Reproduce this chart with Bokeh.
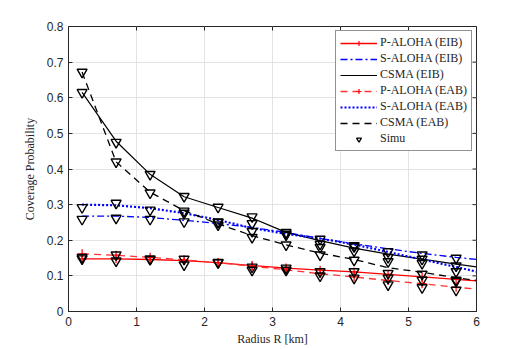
from bokeh.plotting import figure
from bokeh.models import Range1d, Legend, LegendItem, FixedTicker
from bokeh.embed import file_html
from bokeh.resources import INLINE

# ---- data ----
x_line = [0.2, 0.7, 1.2, 1.7, 2.2, 2.7, 3.2, 3.7, 4.2, 4.7, 5.2, 5.7, 6.0]
p_aloha_eib = [0.148, 0.148, 0.146, 0.143, 0.137, 0.129, 0.122, 0.116, 0.111, 0.104, 0.097, 0.090, 0.086]
s_aloha_eib = [0.268, 0.268, 0.264, 0.256, 0.247, 0.236, 0.222, 0.205, 0.190, 0.176, 0.163, 0.152, 0.146]
csma_eib = [0.615, 0.478, 0.385, 0.322, 0.292, 0.262, 0.222, 0.199, 0.178, 0.161, 0.147, 0.133, 0.125]
p_aloha_eab = [0.162, 0.158, 0.152, 0.145, 0.137, 0.127, 0.117, 0.106, 0.097, 0.087, 0.078, 0.068, 0.063]
s_aloha_eab = [0.300, 0.298, 0.290, 0.276, 0.257, 0.234, 0.218, 0.205, 0.188, 0.167, 0.146, 0.125, 0.112]
csma_eab = [0.672, 0.420, 0.335, 0.283, 0.246, 0.213, 0.187, 0.164, 0.146, 0.123, 0.110, 0.095, 0.087]

x_sim = [0.2, 0.7, 1.2, 1.7, 2.2, 2.7, 3.2, 3.7, 4.2, 4.7, 5.2, 5.7]
sim_p_eib = [0.148, 0.142, 0.146, 0.131, 0.137, 0.116, 0.122, 0.112, 0.112, 0.094, 0.088, 0.085]
sim_p_eab = [0.152, 0.159, 0.148, 0.147, 0.138, 0.125, 0.116, 0.100, 0.094, 0.075, 0.067, 0.060]
sim_s_eib = [0.259, 0.262, 0.259, 0.252, 0.252, 0.247, 0.222, 0.203, 0.185, 0.168, 0.159, 0.150]
sim_csma_eib = [0.615, 0.475, 0.385, 0.323, 0.293, 0.266, 0.217, 0.189, 0.182, 0.152, 0.147, 0.128]
sim_s_eab = [0.292, 0.304, 0.285, 0.276, 0.250, 0.225, 0.215, 0.180, 0.170, 0.140, 0.135, 0.112]
sim_csma_eab = [0.672, 0.420, 0.333, 0.282, 0.243, 0.208, 0.187, 0.159, 0.144, 0.107, 0.105, 0.088]

x_ticks = [0, 1, 2, 3, 4, 5, 6]
y_ticks = [0, 0.1, 0.2, 0.3, 0.4, 0.5, 0.6, 0.7, 0.8]

AX = "#262626"
TICKFONT = "Liberation Sans"
SERIF = "Liberation Serif"

X0, X1, Y0, Y1 = 0, 6, 0, 0.8

p = figure(width=526, height=349, output_backend="svg", toolbar_location=None,
           x_range=Range1d(X0, X1), y_range=Range1d(Y0, Y1),
           min_border_left=68, min_border_right=50, min_border_top=26, min_border_bottom=38)
p.outline_line_color = AX
p.outline_line_width = 1
p.background_fill_color = "white"

xa = p.xaxis[0]
ya = p.yaxis[0]
xa.ticker = FixedTicker(ticks=x_ticks)
ya.ticker = FixedTicker(ticks=y_ticks)
for ax in (xa, ya):
    ax.axis_line_color = AX
    ax.major_tick_in = 4
    ax.major_tick_out = 0
    ax.minor_tick_in = 0
    ax.minor_tick_out = 0
    ax.major_tick_line_color = AX
    ax.major_label_text_font = TICKFONT
    ax.major_label_text_color = AX
    ax.major_label_text_font_size = "12px"
    ax.axis_label_text_font = SERIF
    ax.axis_label_text_font_style = "normal"
    ax.axis_label_text_font_size = "12px"
    ax.axis_label_text_color = AX
xa.major_label_standoff = 5
ya.major_label_standoff = 5
xa.axis_label = "Radius R [km]"
ya.axis_label = "Coverage Probability"
xa.axis_label_standoff = 3
ya.axis_label_standoff = 7

# inward ticks on the top and right edges (box style)
dx = (X1 - X0) * 4 / 408
dy = (Y1 - Y0) * 4 / 285
p.segment(x0=[X1] * len(y_ticks), y0=y_ticks, x1=[X1 - dx] * len(y_ticks), y1=y_ticks,
          line_color=AX, line_width=1)
p.segment(x0=x_ticks, y0=[Y1] * len(x_ticks), x1=x_ticks, y1=[Y1 - dy] * len(x_ticks),
          line_color=AX, line_width=1)

p.xgrid.ticker = FixedTicker(ticks=x_ticks)
p.ygrid.ticker = FixedTicker(ticks=y_ticks)
p.grid.grid_line_color = "#e3e3e3"
p.grid.grid_line_width = 1

r_p_eib = p.line(x_line, p_aloha_eib, line_color="#ff0000", line_width=1.3)
r_p_eib_m = p.scatter(x_line[:-1], p_aloha_eib[:-1], marker="cross", size=9,
                      line_color="#ff0000", line_width=1.2)
r_s_eib = p.line(x_line, s_aloha_eib, line_color="#0000ff", line_width=1.3, line_dash="7 3 2 3")
r_c_eib = p.line(x_line, csma_eib, line_color="black", line_width=1.2)
r_p_eab = p.line(x_line, p_aloha_eab, line_color="#ff3333", line_width=1.3, line_dash="7 5")
r_p_eab_m = p.scatter(x_line[:-1], p_aloha_eab[:-1], marker="cross", size=9,
                      line_color="#ff0000", line_width=1.2)
r_s_eab = p.line(x_line, s_aloha_eab, line_color="#0000ff", line_width=2.2, line_dash="2 2")
r_c_eab = p.line(x_line, csma_eab, line_color="black", line_width=1.3, line_dash="7 5")

r_sim = None
for ys in (sim_p_eib, sim_p_eab, sim_s_eib, sim_csma_eib, sim_s_eab, sim_csma_eab):
    r = p.scatter(x_sim, ys, marker="inverted_triangle", size=10, line_color="black",
                  fill_color=None, line_width=1.4)
    if r_sim is None:
        r_sim = r

items = [
    LegendItem(label="P-ALOHA (EIB)", renderers=[r_p_eib, r_p_eib_m]),
    LegendItem(label="S-ALOHA (EIB)", renderers=[r_s_eib]),
    LegendItem(label="CSMA (EIB)", renderers=[r_c_eib]),
    LegendItem(label="P-ALOHA (EAB)", renderers=[r_p_eab, r_p_eab_m]),
    LegendItem(label="S-ALOHA (EAB)", renderers=[r_s_eab]),
    LegendItem(label="CSMA (EAB)", renderers=[r_c_eab]),
    LegendItem(label="Simu", renderers=[r_sim]),
]
legend = Legend(items=items, location="top_right")
legend.label_text_font = SERIF
legend.label_text_font_size = "12px"
legend.label_text_color = AX
legend.label_height = 12
legend.glyph_height = 12
legend.glyph_width = 37
legend.label_standoff = 3
legend.spacing = 1
legend.padding = 4
legend.margin = 4
legend.border_line_color = AX
legend.border_line_width = 1
legend.background_fill_color = "white"
legend.background_fill_alpha = 1
p.add_layout(legend)

open("out.html", "w").write(file_html(p, INLINE))
